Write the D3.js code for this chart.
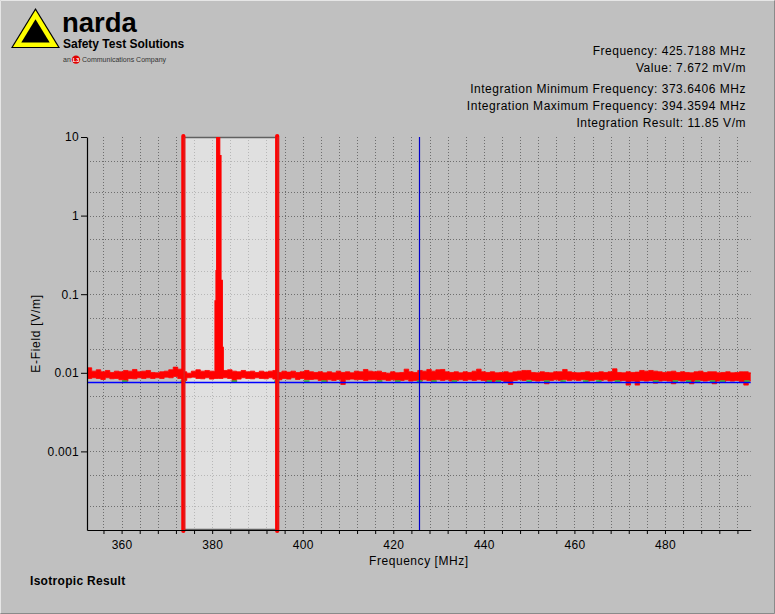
<!DOCTYPE html>
<html><head><meta charset="utf-8">
<script src="https://cdn.jsdelivr.net/npm/d3@7"></script>
<style>
body{margin:0;background:#c0c0c0;}
svg{display:block;font-family:Arial,"Liberation Sans",sans-serif;}
</style>
</head><body><svg id="c" width="775" height="614"></svg>
<script>
// ---------- DATA ----------
// Measured trace envelope (max / min within each 1 MHz bin), mV/m
const traceStartMHz = 352.4;
const traceStepMHz = 1;
const traceHi = [
 11.58,10.50,10.92,10.30,10.71,10.10,10.50,10.30,10.71,10.50,
 11.03,10.30,10.50,10.71,10.10,10.00,10.30,10.50,10.92,11.81,
 11.13,10.30,9.90,10.50,10.92,10.50,10.71,10.50,10.30,10.30,
 10.71,10.92,10.50,10.30,10.71,10.30,10.50,10.10,10.50,10.20,
 10.50,10.71,10.10,10.50,10.20,10.50,10.10,10.30,10.71,10.30,
 10.10,10.30,10.00,10.30,10.00,10.50,10.10,10.30,10.00,10.50,
 10.30,11.03,10.50,10.30,10.50,10.10,9.90,10.30,10.00,10.10,
 11.13,10.30,10.10,10.71,10.50,11.03,10.50,10.92,11.03,10.30,
 10.10,10.30,10.00,10.30,10.10,10.50,11.13,10.30,10.10,10.30,
 10.00,10.10,10.30,10.00,10.30,10.50,10.71,10.71,10.10,10.00,
 10.30,10.10,10.00,10.30,10.30,11.03,10.30,10.10,10.00,10.10,
 10.30,10.00,10.10,10.30,10.10,10.30,11.24,10.10,10.00,10.30,
 10.10,10.20,10.71,10.50,10.71,10.50,10.30,10.10,10.30,10.50,
 10.10,10.30,10.10,10.00,10.30,10.50,10.10,10.30,10.30,10.00,
 10.10,10.30,10.00,10.10,10.30,10.30,10.00
];
const traceLo = [
 8.47,8.64,8.47,8.23,8.64,8.39,8.47,8.15,7.84,8.47,
 8.39,8.64,8.47,8.64,8.47,8.64,8.47,8.81,8.64,8.98,
 8.47,7.99,8.64,8.81,8.47,8.39,8.64,8.31,8.47,8.47,
 8.64,8.47,7.68,8.31,8.64,8.47,8.39,8.64,8.47,8.39,
 8.64,8.31,8.15,8.47,8.31,8.64,8.23,8.47,8.15,8.23,
 8.31,7.99,7.54,8.15,7.99,8.23,7.11,8.15,8.31,8.15,
 8.23,7.99,8.15,8.23,7.84,8.15,7.99,8.15,7.84,7.99,
 8.15,7.84,7.99,7.84,8.15,7.99,7.54,8.15,7.99,8.15,
 7.84,7.99,8.15,7.99,8.15,7.99,8.15,7.99,7.68,7.54,
 7.84,7.99,7.68,7.11,7.99,8.15,7.99,8.23,7.99,7.84,
 7.99,7.25,7.99,8.15,7.99,8.15,7.99,8.15,7.99,8.15,
 7.84,7.99,8.15,7.99,8.15,7.84,7.99,7.84,7.99,6.97,
 7.84,6.97,7.99,7.84,7.99,7.39,7.84,7.99,7.84,7.25,
 7.99,7.84,7.99,7.25,7.84,7.99,7.84,7.99,7.25,7.84,
 7.68,7.99,7.84,7.99,7.68,6.97,7.84
];
// Signal peak (MHz, mV/m)
const peakFreq = [380.4, 380.63, 380.85, 381.0, 381.67, 381.95, 382.24, 382.45];
const peakVal  = [9.8, 82, 200, 20000, 5800, 150, 21, 9.6];
const peakBase = 9.5; // mV/m, floor of the peak fill
// Second (green) trace, visible at these frequencies (MHz), level mV/m
const greenFreq = [360.7,373.6,384.9,394.3,400.9,404.7,417.0,421.0,425.8,429.0,433.5,441.2,443.2,
                   450.0,453.9,457.5,462.5,465.4,469.5,478.0,482.3,485.2,487.2,490.5,492.7,498.1];
const greenLevel = 7.8;
// Marker and integration info
const markerFreq = 425.7188, markerValue = 7.672;   // MHz, mV/m
const intMinFreq = 373.6406, intMaxFreq = 394.3594; // MHz
const intResult = 11.85;                             // V/m
// Axes
const xDomain = [352.36, 498.93];
const yDomain = [1e-4, 10];
const xTickLabels = [360, 380, 400, 420, 440, 460, 480];
const yTickLabels = [10, 1, 0.1, 0.01, 0.001];
const yTickText = ["10", "1", "0.1", "0.01", "0.001"];
const yGridValues = [5,2,1,0.5,0.2,0.1,0.05,0.02,0.01,0.005,0.002,0.001,5e-4,2e-4];

// ---------- LAYOUT ----------
const svg = d3.select("#c");
const W = 775, H = 614;
const L = 87, R = 750.7, T = 137, B = 530;
const x = d3.scaleLinear().domain(xDomain).range([L, R]);
const y = d3.scaleLog().domain(yDomain).range([B, T]);
const mv = v => v / 1000;

// frame
svg.append("rect").attr("width", W).attr("height", H).attr("fill", "#c0c0c0");
svg.append("path").attr("d", `M0.5,${H-0.5}V0.5H${W-0.5}`).attr("fill","none").attr("stroke","#e6e6e6");
svg.append("path").attr("d", `M0.5,${H-0.5}H${W-0.5}V0.5`).attr("fill","none").attr("stroke","#8a8a8a");

// ---------- LOGO ----------
const logo = svg.append("g");
const triPts = [[35.5, 8], [11, 48], [60, 48]];
const cxT = d3.mean(triPts, p => p[0]), cyT = d3.mean(triPts, p => p[1]);
const tri = s => "M" + triPts.map(p => [cxT + (p[0]-cxT)*s, cyT + (p[1]-cyT)*s].join(",")).join("L") + "Z";
logo.append("path").attr("d", tri(1)).attr("fill", "#000");
logo.append("path").attr("d", tri(0.92)).attr("fill", "#ffff00");
logo.append("path").attr("d", tri(0.58)).attr("fill", "#000");
logo.append("text").attr("x", 62).attr("y", 31.5).attr("font-size", 27.5).attr("font-weight", "bold")
  .attr("fill", "#000").text("narda");
logo.append("text").attr("x", 63).attr("y", 48).attr("font-size", 12).attr("font-weight", "bold")
  .attr("fill", "#000").text("Safety Test Solutions");
logo.append("text").attr("x", 63).attr("y", 62).attr("font-size", 7).attr("fill", "#333").text("an");
logo.append("circle").attr("cx", 76).attr("cy", 59.6).attr("r", 4.2).attr("fill", "#e00000");
logo.append("text").attr("x", 76).attr("y", 61.8).attr("font-size", 5.5).attr("font-weight","bold")
  .attr("text-anchor", "middle").attr("fill", "#fff").text("L3");
logo.append("text").attr("x", 82).attr("y", 62).attr("font-size", 7).attr("fill", "#333")
  .text("Communications Company");

// ---------- INFO TEXT ----------
const info = [
  [`Frequency: ${markerFreq.toFixed(4)} MHz`, 55],
  [`Value: ${markerValue.toFixed(3)} mV/m`, 71.5],
  [`Integration Minimum Frequency: ${intMinFreq.toFixed(4)} MHz`, 93],
  [`Integration Maximum Frequency: ${intMaxFreq.toFixed(4)} MHz`, 110],
  [`Integration Result: ${intResult.toFixed(2)} V/m`, 126.5]
];
svg.append("g").selectAll("text").data(info).join("text")
  .attr("x", 746).attr("y", d => d[1]).attr("text-anchor", "end")
  .attr("font-size", 12).attr("letter-spacing", 0.52).attr("fill", "#000").text(d => d[0]);

// ---------- GRID ----------
const grid = svg.append("g").attr("stroke", "#6e6e6e").attr("stroke-dasharray", "1,2").attr("stroke-width", 1);
const xGridVals = d3.range(356, xDomain[1], 4);
grid.selectAll("line.v").data(xGridVals).join("line")
  .attr("x1", d => Math.round(x(d)) + 0.5).attr("x2", d => Math.round(x(d)) + 0.5)
  .attr("y1", T).attr("y2", B);
grid.selectAll("line.h").data(yGridValues).join("line")
  .attr("x1", L).attr("x2", R)
  .attr("y1", d => Math.round(y(d)) + 0.5).attr("y2", d => Math.round(y(d)) + 0.5);

// ---------- INTEGRATION BAND ----------
const bx0 = x(intMinFreq), bx1 = x(intMaxFreq);
svg.append("rect").attr("x", bx0).attr("y", T).attr("width", bx1 - bx0).attr("height", B - T)
  .attr("fill", "#ffffff").attr("fill-opacity", 0.5);
svg.append("line").attr("x1", bx0).attr("x2", bx1).attr("y1", T + 0.5).attr("y2", T + 0.5)
  .attr("stroke", "#606060").attr("stroke-width", 1.5);
svg.append("line").attr("x1", bx0).attr("x2", bx1).attr("y1", B - 0.5).attr("y2", B - 0.5)
  .attr("stroke", "#606060").attr("stroke-width", 1.5);

// ---------- TRACES ----------
svg.append("clipPath").attr("id", "pc").append("rect")
  .attr("x", L + 1).attr("y", T).attr("width", R - L - 1).attr("height", B - T);
const plot = svg.append("g").attr("clip-path", "url(#pc)");

const trace = traceHi.map((h, i) => ({f: traceStartMHz + i * traceStepMHz, hi: h, lo: traceLo[i]}));
trace.push({f: traceStartMHz + traceHi.length * traceStepMHz, hi: traceHi[traceHi.length-1], lo: traceLo[traceLo.length-1]});
const area = d3.area().curve(d3.curveStepAfter)
  .x(d => x(d.f)).y0(d => y(mv(d.lo))).y1(d => y(mv(d.hi)));
plot.append("path").attr("d", area(trace)).attr("fill", "#ff0000")
  .attr("stroke", "#ff0000").attr("stroke-width", 0.8);

const peak = peakFreq.map((f, i) => ({f, v: peakVal[i]}));
plot.append("path")
  .attr("d", d3.area().curve(d3.curveStepAfter).x(d => x(d.f)).y0(y(mv(peakBase))).y1(d => y(mv(d.v)))(peak))
  .attr("fill", "#ff0000").attr("stroke", "#ff0000").attr("stroke-width", 1.2);

// green trace fragments
plot.append("g").selectAll("line").data(greenFreq).join("line")
  .attr("x1", d => x(d - 0.6)).attr("x2", d => x(d + 0.6))
  .attr("y1", y(mv(greenLevel))).attr("y2", y(mv(greenLevel)))
  .attr("stroke", "#3cb83c").attr("stroke-width", 2);

// marker lines
svg.append("line").attr("x1", L).attr("x2", R)
  .attr("y1", Math.round(y(mv(markerValue))) + 0.5).attr("y2", Math.round(y(mv(markerValue))) + 0.5)
  .attr("stroke", "#0000ff").attr("stroke-width", 1.4);
svg.append("line").attr("x1", Math.round(x(markerFreq)) + 0.5).attr("x2", Math.round(x(markerFreq)) + 0.5)
  .attr("y1", T).attr("y2", B).attr("stroke", "#0000c8").attr("stroke-width", 1.2);

// band edges
[intMinFreq, intMaxFreq].forEach(f => {
  svg.append("line").attr("x1", x(f)).attr("x2", x(f)).attr("y1", T - 1).attr("y2", B + 1)
    .attr("stroke", "#ff0000").attr("stroke-width", 4.2).attr("stroke-linecap", "round");
  svg.append("line").attr("x1", x(f) + 0.8).attr("x2", x(f) + 0.8).attr("y1", T).attr("y2", B)
    .attr("stroke", "#c03838").attr("stroke-width", 0.8);
});

// ---------- AXES ----------
const yAxis = d3.axisLeft(y).tickValues(yTickLabels)
  .tickFormat((d, i) => yTickText[i]).tickSize(6).tickSizeOuter(0).tickPadding(2);
const gy = svg.append("g").attr("transform", `translate(${L},0)`).call(yAxis);
const xAxis = d3.axisBottom(x).tickValues(xGridVals)
  .tickFormat(d => xTickLabels.includes(d) ? d : "").tickSize(4).tickSizeOuter(0).tickPadding(6);
const gx = svg.append("g").attr("transform", `translate(0,${B})`).call(xAxis);
[gx, gy].forEach(g => {
  g.attr("font-family", null).attr("font-size", 12);
  g.selectAll("text").attr("fill", "#000").attr("letter-spacing", 0.3);
  g.selectAll("line").attr("stroke", "#000");
  g.select(".domain").attr("stroke", "#000").attr("stroke-width", 1.2);
});

svg.append("text").attr("transform", `translate(40,${(T + B) / 2}) rotate(-90)`)
  .attr("text-anchor", "middle").attr("font-size", 12).attr("letter-spacing", 0.7)
  .attr("fill", "#000").text("E-Field [V/m]");
svg.append("text").attr("x", (L + R) / 2).attr("y", 565).attr("text-anchor", "middle")
  .attr("font-size", 12).attr("letter-spacing", 0.55).attr("fill", "#000").text("Frequency [MHz]");
svg.append("text").attr("x", 30).attr("y", 585).attr("font-size", 12).attr("font-weight", "bold")
  .attr("letter-spacing", 0.3).attr("fill", "#000").text("Isotropic Result");
</script>
</body></html>
